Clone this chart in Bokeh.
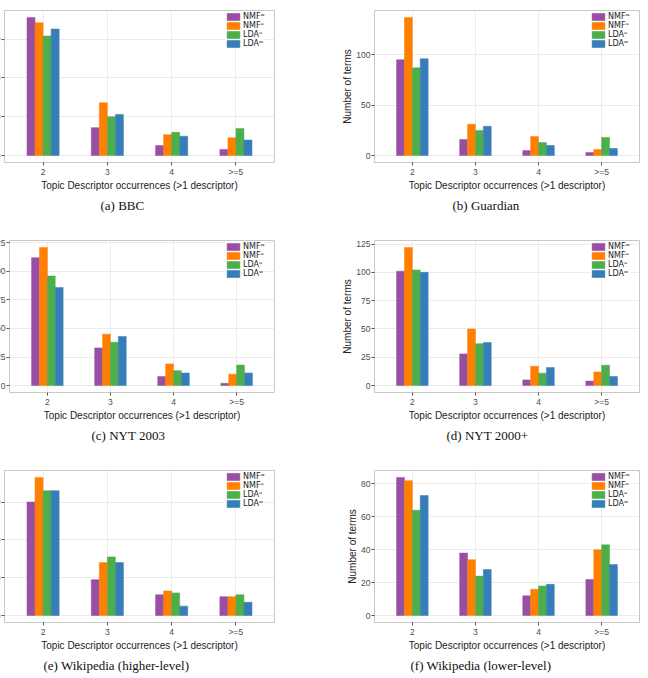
from bokeh.plotting import figure
from bokeh.layouts import row, column
from bokeh.models import (Range1d, FixedTicker, SingleIntervalTicker, Legend,
                          LegendItem, Title, ColumnDataSource)
from bokeh.transform import dodge
from bokeh.embed import file_html
from bokeh.resources import INLINE

# Occurrence buckets on the x axis and the four model variants
categories = ["2", "3", "4", ">=5"]
series_labels = ["NMFʷ", "NMFᵘ", "LDAᵘ", "LDAʷ"]
series_colors = ["#984EA3", "#FF7F00", "#4DAF4A", "#377EB8"]

# Number of terms per bucket, one list per model variant
bbc_nmf_w = [178, 36, 13, 8]
bbc_nmf_u = [171, 68, 27, 23]
bbc_lda_u = [154, 50, 30, 35]
bbc_lda_w = [163, 53, 25, 20]

guardian_nmf_w = [95, 16, 5, 3]
guardian_nmf_u = [137, 31, 19, 6]
guardian_lda_u = [87, 25, 13, 18]
guardian_lda_w = [96, 29, 10, 7]

nyt2003_nmf_w = [112, 33, 8, 2]
nyt2003_nmf_u = [121, 45, 19, 10]
nyt2003_lda_u = [96, 38, 13, 18]
nyt2003_lda_w = [86, 43, 11, 11]

nyt2000_nmf_w = [101, 28, 5, 4]
nyt2000_nmf_u = [122, 50, 17, 12]
nyt2000_lda_u = [102, 37, 11, 18]
nyt2000_lda_w = [100, 38, 16, 8]

wikihigh_nmf_w = [60, 19, 11, 10]
wikihigh_nmf_u = [73, 28, 13, 10]
wikihigh_lda_u = [66, 31, 12, 11]
wikihigh_lda_w = [66, 28, 5, 7]

wikilow_nmf_w = [84, 38, 12, 22]
wikilow_nmf_u = [82, 34, 16, 40]
wikilow_lda_u = [64, 24, 18, 43]
wikilow_lda_w = [73, 28, 19, 31]

TICK_GREY = "#4d4d4d"
SANS = "Liberation Sans"
SERIF = "Liberation Serif"


def panel(values, caption, interval, left_col, shift=0, height=230,
          cap_offset=0):
    frame_h = 152
    if left_col:
        width = 324 + shift
        border_right = 50
    else:
        width = 324
        border_right = 9
    border_left = 50
    frame_w = width - border_left - border_right

    top = max(max(v) for v in values)
    src = ColumnDataSource(dict(
        x=list(range(1, len(categories) + 1)),
        **{f"s{i}": v for i, v in enumerate(values)}))

    p = figure(width=width, height=height, output_backend="svg",
               toolbar_location=None, title=None,
               x_range=Range1d(0.4, len(categories) + 0.6),
               y_range=Range1d(-0.05 * top, 1.05 * top),
               min_border_left=border_left, min_border_right=border_right,
               min_border_top=10, min_border_bottom=height - 10 - frame_h,
               background_fill_color="white", border_fill_color="white")
    p.outline_line_color = "#c8c8c8"
    p.outline_line_width = 1

    bw = 0.125
    offsets = [-1.5 * bw, -0.5 * bw, 0.5 * bw, 1.5 * bw]
    items = []
    for i, (lab, col) in enumerate(zip(series_labels, series_colors)):
        r = p.vbar(x=dodge("x", offsets[i]), top=f"s{i}", width=bw,
                   bottom=0, source=src, fill_color=col, line_color=col,
                   line_width=0.5)
        items.append(LegendItem(label=lab, renderers=[r]))

    # light grid on a white panel
    p.xgrid.grid_line_color = "#ebebeb"
    p.ygrid.grid_line_color = "#ebebeb"
    p.xgrid.grid_line_width = 1
    p.ygrid.grid_line_width = 1

    # axes
    xa = p.xaxis[0]
    xa.ticker = FixedTicker(ticks=list(range(1, len(categories) + 1)))
    xa.major_label_overrides = {i + 1: c for i, c in enumerate(categories)}
    xa.axis_label = "Topic Descriptor occurrences (>1 descriptor)"
    ya = p.yaxis[0]
    ya.ticker = SingleIntervalTicker(interval=interval, num_minor_ticks=0)
    ya.axis_label = "Number of terms"
    for ax in (xa, ya):
        ax.axis_line_color = None
        ax.major_tick_line_color = "#555555"
        ax.major_tick_in = 0
        ax.major_tick_out = 3
        ax.minor_tick_line_color = None
        ax.major_label_text_font = SANS
        ax.major_label_text_font_size = "8.5px"
        ax.major_label_text_color = TICK_GREY
        ax.major_label_standoff = 1
        ax.axis_label_text_font = SANS
        ax.axis_label_text_font_size = "10px"
        ax.axis_label_text_font_style = "normal"
        ax.axis_label_text_color = "#222222"
    xa.axis_label_standoff = 0
    ya.axis_label_standoff = 0

    leg = Legend(items=items, location=(frame_w - 49, frame_h - 38),
                 orientation="vertical")
    leg.glyph_width = 16
    leg.glyph_height = 9
    leg.label_height = 9
    leg.label_standoff = 2
    leg.spacing = 0
    leg.padding = 0
    leg.margin = 0
    leg.border_line_color = None
    leg.background_fill_color = "white"
    leg.background_fill_alpha = 1
    leg.label_text_font = "DejaVu Sans"
    leg.label_text_font_size = "8px"
    leg.label_text_color = "#222222"
    leg.label_text_baseline = "middle"
    p.add_layout(leg)

    # sub-figure caption under the x axis title
    cap = Title(text=caption, align="left", text_font=SERIF,
                text_font_size="13px", text_font_style="normal",
                text_color="#111111", standoff=4, offset=cap_offset)
    p.add_layout(cap, "below")

    if left_col:
        p.margin = (0, 0, 0, -shift)
    return p


pa = panel([bbc_nmf_w, bbc_nmf_u, bbc_lda_u, bbc_lda_w], "(a) BBC", 50,
           True, shift=46, cap_offset=96)
pb = panel([guardian_nmf_w, guardian_nmf_u, guardian_lda_u, guardian_lda_w],
           "(b) Guardian", 50, False, cap_offset=78)
pc = panel([nyt2003_nmf_w, nyt2003_nmf_u, nyt2003_lda_u, nyt2003_lda_w],
           "(c) NYT 2003", 25, True, shift=41, cap_offset=82)
pd_ = panel([nyt2000_nmf_w, nyt2000_nmf_u, nyt2000_lda_u, nyt2000_lda_w],
            "(d) NYT 2000+", 25, False, cap_offset=72)
pe = panel([wikihigh_nmf_w, wikihigh_nmf_u, wikihigh_lda_u, wikihigh_lda_w],
           "(e) Wikipedia (higher-level)", 20, True, shift=46, height=218,
           cap_offset=39)
pf = panel([wikilow_nmf_w, wikilow_nmf_u, wikilow_lda_u, wikilow_lda_w],
           "(f) Wikipedia (lower-level)", 20, False, height=218,
           cap_offset=36)

layout = column(row(pa, pb), row(pc, pd_), row(pe, pf))

open("out.html", "w").write(file_html(layout, INLINE))
